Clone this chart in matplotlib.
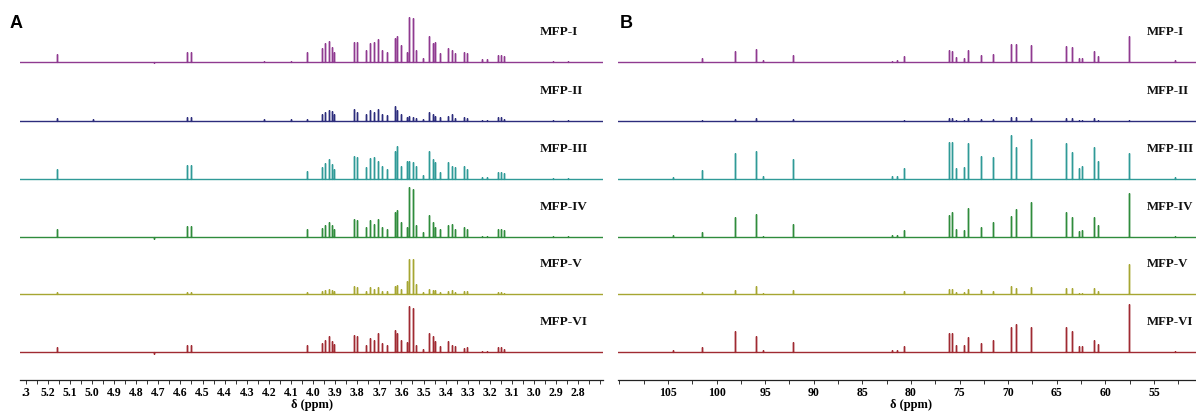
import numpy as np
import matplotlib
matplotlib.use("Agg")
import matplotlib.pyplot as plt
from matplotlib.ticker import MultipleLocator, FixedLocator, FixedFormatter

# ---------------- data ----------------
names = ["MFP-I", "MFP-II", "MFP-III", "MFP-IV", "MFP-V", "MFP-VI"]

# 1H NMR peak positions (ppm) and intensities (arbitrary units)
ppm_H = [5.158, 4.995, 4.72, 4.57, 4.552, 4.22, 4.10, 4.027, 3.958, 3.945, 3.928,
         3.915, 3.905, 3.815, 3.80, 3.76, 3.742, 3.724, 3.706, 3.688, 3.665, 3.629,
         3.62, 3.60, 3.574, 3.566, 3.548, 3.534, 3.502, 3.475, 3.457, 3.448, 3.425,
         3.389, 3.371, 3.357, 3.317, 3.303, 3.235, 3.213, 3.163, 3.149, 3.136,
         2.914, 2.846]
H_I   = [8, 0, -1, 10, 10, 0.5, 0.5, 10, 14, 19, 21, 15, 10, 20, 20, 12, 19, 20, 23, 12, 10,
         24, 26, 17, 10, 45, 44, 12, 4, 26, 19, 20, 9, 14, 12, 9, 10, 9, 3, 3, 7, 7, 6, 1, 1]
H_II  = [3, 2, 0, 4, 4, 2, 2, 2, 7, 9, 11, 10, 7, 12, 9, 7, 11, 9, 12, 7, 6,
         15, 11, 7, 4, 5, 4, 3, 2, 9, 7, 5, 4, 5, 7, 3, 4, 3, 1, 1, 4, 4, 2, 1, 0.5]
H_III = [10, 0, 0, 14, 14, 0, 0, 8, 12, 16, 20, 15, 10, 23, 22, 12, 21, 22, 18, 13, 10,
         28, 33, 13, 18, 18, 17, 13, 4, 28, 20, 17, 7, 17, 13, 12, 13, 10, 2, 2, 7, 7, 6, 1, 0.5]
H_IV  = [8, 0, -2, 11, 11, 0, 0, 8, 9, 12, 15, 12, 8, 18, 17, 10, 17, 13, 18, 10, 8,
         25, 27, 15, 10, 50, 48, 12, 5, 22, 15, 10, 8, 12, 13, 8, 10, 8, 1, 1, 8, 8, 7, 0.5, 0.5]
H_V   = [2, 0, 0, 2, 2, 0, 0, 2, 3, 4, 5, 4, 3, 8, 7, 3, 7, 5, 7, 3, 3,
         8, 9, 5, 13, 35, 35, 10, 2, 5, 4, 4, 2, 3, 4, 2, 3, 3, 0.5, 0.5, 2, 2, 1, 0, 0]
H_VI  = [5, 0, -2, 7, 7, 0, 0, 7, 9, 12, 16, 11, 8, 17, 16, 7, 14, 12, 19, 9, 7,
         22, 19, 12, 10, 46, 44, 7, 3, 19, 16, 11, 6, 11, 7, 6, 4, 5, 1, 1, 5, 5, 3, 0.5, 0.5]

# 13C NMR peak positions (ppm) and intensities
ppm_C = [104.5, 101.5, 98.1, 95.9, 95.2, 92.1, 82.0, 81.4, 80.7, 76.1, 75.8, 75.4, 74.5,
         74.1, 72.8, 71.6, 69.7, 69.2, 67.6, 64.0, 63.4, 62.7, 62.4, 61.2, 60.8, 57.6, 52.8]
C_I   = [0, 4, 11, 13, 2, 7, 1, 1.5, 6, 12, 11, 5, 4, 12, 7, 8, 18, 18, 17, 16, 15, 4, 4, 11, 6, 26, 2]
C_II  = [0, 0.5, 2, 3, 0, 2, 0, 0, 1, 3, 3, 1, 1, 3, 2, 2, 4, 4, 3, 3, 3, 1, 1, 3, 1, 1, 0]
C_III = [2, 9, 26, 28, 3, 20, 3, 3, 11, 37, 37, 11, 12, 36, 23, 22, 44, 32, 40, 36, 27, 11, 13, 32, 18, 26, 2]
C_IV  = [2, 5, 20, 23, 1, 13, 2, 2, 7, 22, 25, 8, 7, 29, 10, 15, 21, 28, 35, 25, 20, 6, 7, 20, 12, 44, 1]
C_V   = [0, 2, 4, 8, 1, 4, 0, 0, 3, 5, 5, 2, 2, 5, 4, 3, 8, 6, 7, 6, 6, 1, 1, 6, 3, 30, 0]
C_VI  = [2, 5, 21, 16, 2, 10, 2, 2, 6, 19, 19, 7, 7, 15, 9, 12, 25, 28, 25, 25, 21, 6, 6, 12, 8, 48, 1]

H_ticks = [5.3, 5.2, 5.1, 5.0, 4.9, 4.8, 4.7, 4.6, 4.5, 4.4, 4.3, 4.2, 4.1, 4.0,
           3.9, 3.8, 3.7, 3.6, 3.5, 3.4, 3.3, 3.2, 3.1, 3.0, 2.9, 2.8]
H_ticklabels = [".3", "5.2", "5.1", "5.0", "4.9", "4.8", "4.7", "4.6", "4.5", "4.4", "4.3",
                "4.2", "4.1", "4.0", "3.9", "3.8", "3.7", "3.6", "3.5", "3.4", "3.3",
                "3.2", "3.1", "3.0", "2.9", "2.8"]
C_ticks = [105, 100, 95, 90, 85, 80, 75, 70, 65, 60, 55, 50]
C_ticklabels = ["105", "100", "95", "90", "85", "80", "75", "70", "65", "60", "55", ""]

# ---------------- style ----------------
colors = ["#8f3a90", "#2c2c7c", "#2f9a97", "#2f8c3c", "#a6a632", "#a02a32"]
baselines = [318, 259, 201, 143, 86, 28]   # vertical offsets of the stacked traces
label_off = 30

serif = "Liberation Serif"
W, H = 1196, 415
fig = plt.figure(figsize=(W / 100, H / 100), dpi=100)
fig.patch.set_facecolor("white")

def px_ax(x0, x1, ybot=380):
    return fig.add_axes([x0 / W, (H - ybot) / H, (x1 - x0) / W, ybot / H])

axA = px_ax(20, 603)
axB = px_ax(618, 1205)

def stick_line(ax, ppm, h, base, xl, color):
    ppm = np.asarray(ppm, float)
    h = np.asarray(h, float)
    order = np.argsort(ppm)[::-1]
    p = ppm[order]; hh = h[order]
    xs = np.concatenate([[xl[0]], np.repeat(p, 3), [xl[1]]])
    ys = np.full(xs.shape, float(base))
    ys[2:-1:3] = base + hh
    ax.plot(xs, ys, color=color, lw=1.0, solid_joinstyle="miter")

H_sets = [H_I, H_II, H_III, H_IV, H_V, H_VI]
C_sets = [C_I, C_II, C_III, C_IV, C_V, C_VI]

xlA = (5.326, 2.688)
xlB = (110.14, 49.75)

for i in range(6):
    stick_line(axA, ppm_H, H_sets[i], baselines[i], xlA, colors[i])
    stick_line(axB, ppm_C, C_sets[i], baselines[i], xlB, colors[i])
    axA.text(2.973, baselines[i] + label_off, names[i], fontfamily=serif,
             fontweight="bold", fontsize=9.5, ha="left", va="center", color="#111111")
    axB.text(55.7, baselines[i] + label_off, names[i], fontfamily=serif,
             fontweight="bold", fontsize=9.3, ha="left", va="center", color="#111111",
             clip_on=False)

for ax, xl in ((axA, xlA), (axB, xlB)):
    ax.set_xlim(*xl)
    ax.set_ylim(0, 380)
    for s in ("top", "left", "right"):
        ax.spines[s].set_visible(False)
    ax.spines["bottom"].set_linewidth(0.9)
    ax.spines["bottom"].set_color("#222222")
    ax.set_yticks([])
    ax.tick_params(axis="x", which="both", direction="out", length=3, width=0.7,
                   color="#333333", pad=2, labelsize=8.5)
    ax.set_facecolor("none")

axA.xaxis.set_major_locator(FixedLocator(H_ticks))
axA.xaxis.set_major_formatter(FixedFormatter(H_ticklabels))
axA.xaxis.set_minor_locator(MultipleLocator(0.05))
axB.xaxis.set_major_locator(FixedLocator(C_ticks))
axB.xaxis.set_major_formatter(FixedFormatter(C_ticklabels))
axB.xaxis.set_minor_locator(MultipleLocator(2.5))

for ax in (axA, axB):
    for lab in ax.get_xticklabels():
        lab.set_fontfamily(serif)
        lab.set_fontweight("bold")
    ax.set_xlabel("δ (ppm)", fontfamily=serif, fontweight="bold", fontsize=9, labelpad=0)

fig.text(10 / W, 1 - 28 / H, "A", fontfamily="Liberation Sans", fontweight="bold",
         fontsize=13, ha="left", va="baseline")
fig.text(620 / W, 1 - 28 / H, "B", fontfamily="Liberation Sans", fontweight="bold",
         fontsize=13, ha="left", va="baseline")

fig.savefig("out.png", dpi=100, facecolor="white")
